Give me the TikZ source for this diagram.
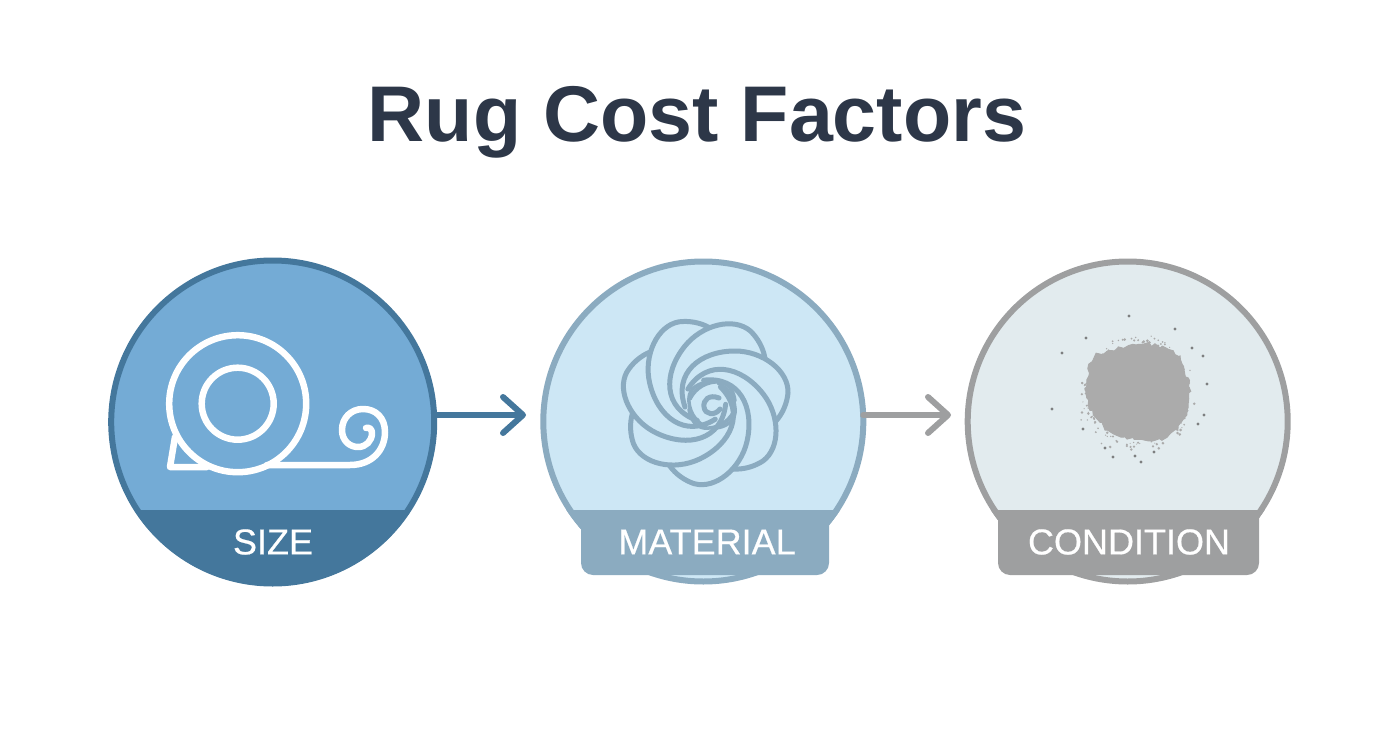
\documentclass[tikz,border=0pt]{standalone}
\usepackage{fontspec}
\setmainfont{Liberation Sans}
\newfontfamily\labelfont[FakeBold=0.5]{Liberation Sans}
\usetikzlibrary{arrows.meta,decorations.pathmorphing}
\definecolor{sizefill}{HTML}{74ABD5}
\definecolor{sizedark}{HTML}{44779C}
\definecolor{matfill}{HTML}{CDE7F5}
\definecolor{matdark}{HTML}{8BABC0}
\definecolor{condfill}{HTML}{E2EBEE}
\definecolor{conddark}{HTML}{9E9FA0}
\definecolor{stain}{HTML}{ABABAB}
\definecolor{titlecol}{HTML}{2D3748}
\begin{document}
\begin{tikzpicture}[x=1pt, y=-1pt,
  every node/.style = {inner sep=0pt, outer sep=0pt},
  disc/.style = {shape=circle, minimum size=320pt, line width=6pt},
  bandlabel/.style = {text=white, font=\labelfont\fontsize{36}{40}\selectfont},
  flow/.style = {line width=6pt, line cap=round,
    -{Straight Barb[length=20pt, width=36pt, round]}},
  rollline/.style = {draw=white, line width=6.5pt, line cap=round, line join=round},
  petal/.style = {draw=matdark, line width=5pt, line cap=round}
]
  \useasboundingbox (0,0) rectangle (1392,752);

  \node (title) at (697,122) [text=titlecol, font=\fontsize{79}{90}\selectfont\bfseries] {Rug Cost Factors};

  % circles
  \node (size) at (272.7,422) [disc, minimum size=323pt, draw=sizedark, fill=sizefill] {};
  \node (material) at (703.3,421.5) [disc, draw=matdark, fill=matfill] {};
  \node (condition) at (1127.7,421.5) [disc, draw=conddark, fill=condfill] {};

  % bands
  \begin{scope}
    \clip (272.7,422) circle (164);
    \fill[sizedark] (100,510) rectangle (450,590);
  \end{scope}
  \begin{scope}
    \clip (703.3,421.5) circle (163);
    \fill[matdark] (530,510) rectangle (880,530);
  \end{scope}
  \fill[matdark] (581,510) {[rounded corners=12pt] -- (581,575) -- (829,575)} -- (829,510) -- cycle;
  \begin{scope}
    \clip (1127.7,421.5) circle (163);
    \fill[conddark] (960,510) rectangle (1300,530);
  \end{scope}
  \fill[conddark] (998,510) {[rounded corners=12pt] -- (998,575) -- (1259,575)} -- (1259,510) -- cycle;

  \node (sizelabel) at (273,542) [bandlabel] {SIZE};
  \node (materiallabel) at (707,542) [bandlabel] {MATERIAL};
  \node (conditionlabel) at (1129,542) [bandlabel] {CONDITION};

  % arrows
  \coordinate (tipone) at (526,415);
  \coordinate (tiptwo) at (951,415);
  \draw[flow, draw=sizedark] (size.east |- tipone) -- (tipone);
  \draw[flow, draw=conddark] (material.east |- tiptwo) -- (tiptwo);

  % rolled rug
  \draw[rollline] (237.7,403.7) circle (68.5);
  \draw[rollline] (237.7,403.7) circle (36);
  \draw[rollline] (175,437) -- (170,467) -- (207,467);
  \draw[rollline] (267,465) -- (350,465)
    .. controls (372,465) and (385,450) .. (385,432)
    .. controls (385,418) and (376,409) .. (363,409)
    .. controls (351,409) and (342,418) .. (342,430)
    .. controls (342,441) and (350,447) .. (358,447)
    .. controls (366,447) and (372,441) .. (372,433)
    .. controls (372,429) and (369,427) .. (366,428);

  % rose
  \coordinate (rose) at (705,401);
  \foreach \a in {0,51.4,...,308.6}
    \draw[petal, shift={(rose)}, rotate=\a]
      (-20,6) .. controls (-32,-28) and (-5,-50) .. (30,-50)
      .. controls (58,-50) and (84,-30) .. (83,-8)
      .. controls (82,2) and (78,12) .. (71,20);
  \foreach \a in {0,90,...,270}
    \draw[petal, line width=3.5pt, shift={(712,405)}, rotate=\a]
      (-22,-6) .. controls (-16,-18) and (-4,-24) .. (8,-23)
      .. controls (16,-22) and (22,-14) .. (23,-4);
  \draw[petal] (719,398) .. controls (709,394) and (703,400) .. (704,407)
    .. controls (705,415) and (715,416) .. (720,409);

  % stain
  \fill[stain, draw=stain, line width=1pt, decorate, decoration={random steps, segment length=4pt, amplitude=2pt}]
    (1136,345) .. controls (1150,342) and (1165,347) .. (1180,356)
    .. controls (1184,370) and (1192,385) .. (1188,403)
    .. controls (1186,422) and (1178,430) .. (1167,437)
    .. controls (1150,442) and (1125,442) .. (1108,430)
    .. controls (1095,420) and (1086,405) .. (1087,385)
    .. controls (1088,370) and (1090,358) .. (1097,354)
    .. controls (1110,352) and (1122,347) .. (1136,345) -- cycle;
  \pgfmathsetseed{7}
  \foreach \i in {1,...,130}{
    \pgfmathsetmacro{\ang}{360*rnd}
    \pgfmathsetmacro{\rad}{50+14*rnd*rnd}
    \pgfmathsetmacro{\dot}{0.5+1*rnd}
    \fill[stain] (1137,392) ++(\ang:\rad) circle (\dot);
  }
  \foreach \x/\y in {1129/316, 1086/338, 1062/353, 1175/329, 1192/348, 1203/356, 1207/384,
    1204/415, 1198/424, 1052/409, 1113/457, 1135/456, 1154/452, 1083/429, 1105/448, 1141/462}
    \fill[conddark!80!black] (\x,\y) circle (1.6);
\end{tikzpicture}
\end{document}
